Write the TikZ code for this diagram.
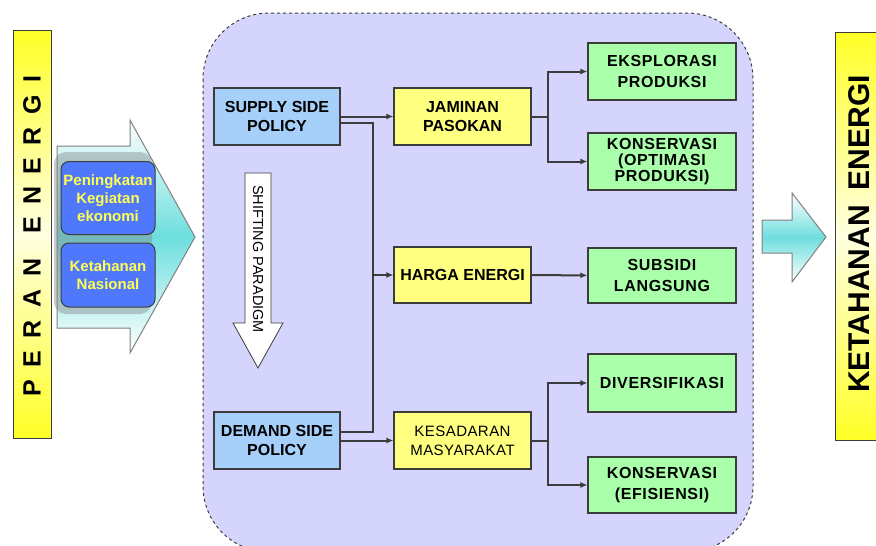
\documentclass[tikz,border=0pt]{standalone}
\usepackage{fontspec}
\setmainfont{Liberation Sans}
\usetikzlibrary{arrows.meta}
\definecolor{lavender}{RGB}{212,212,252}
\definecolor{policyblue}{RGB}{166,208,250}
\definecolor{boxyellow}{RGB}{255,255,128}
\definecolor{boxgreen}{RGB}{170,255,170}
\definecolor{roleblue}{RGB}{80,120,252}
\definecolor{roletext}{RGB}{255,255,80}
\definecolor{flowcyan}{RGB}{110,222,222}
\definecolor{darkline}{RGB}{60,60,60}
\begin{document}
\begin{tikzpicture}[
    x=1pt, y=-1pt,
    every node/.style={align=center, inner sep=1pt, font=\fontsize{16}{19}\selectfont\bfseries},
    policy/.style={draw=darkline, line width=1.2pt, fill=policyblue, minimum width=126pt, minimum height=57pt},
    strategy/.style={draw=darkline, line width=1.2pt, fill=boxyellow, minimum width=137pt, minimum height=57pt},
    program/.style={draw=darkline, line width=1.2pt, fill=boxgreen, minimum width=148pt, minimum height=57pt,
        font=\fontsize{16}{21}\selectfont\bfseries\addfontfeature{LetterSpace=4}},
    role/.style={draw=darkline, line width=1pt, fill=roleblue, rounded corners=8pt, minimum width=94pt,
        text=roletext, font=\fontsize{15}{18}\selectfont\bfseries},
    bar/.style={draw=darkline, line width=1pt, top color=yellow!85, bottom color=yellow!85, middle color=yellow!12},
    bigarrow/.style={draw=gray, line width=1pt, top color=white, bottom color=white, middle color=flowcyan},
    line/.style={draw=darkline, line width=2pt},
    arr/.style={line, -{Latex[length=7pt,width=6pt]}}
]
\useasboundingbox (0,0) rectangle (876,546);
\clip (0,0) rectangle (876,546);

% area kebijakan
\draw[dashed, line width=1pt, darkline, fill=lavender, rounded corners=66pt]
    (203,13) rectangle (753,552);

% peran energi
\draw[bar] (13,30) rectangle (51,438);
\node[rotate=90, font=\fontsize{25}{25}\selectfont\bfseries] (peran) at (32,236)
    {P\,\,\,E\,\,\,R\,\,\,A\,\,\,N\,\,\,\,\,\,E\,\,\,N\,\,\,E\,\,\,R\,\,\,G\,\,\,I};
\draw[bigarrow] (57,146) -- (130,146) -- (130,120) -- (195,237) -- (130,353) -- (130,328) -- (57,328) -- cycle;
\fill[gray, opacity=.4, rounded corners=12pt] (54,152) rectangle (152,314);
\node[role, minimum height=73pt] (ekonomi) at (108,198) {Peningkatan\\Kegiatan\\ekonomi};
\node[role, minimum height=64pt] (nasional) at (108,275) {Ketahanan\\Nasional};

% shifting paradigm
\draw[draw=darkline, fill=white, line width=.8pt]
    (245,173) -- (271,173) -- (271,323) -- (283,323) -- (258,368) -- (233,323) -- (245,323) -- cycle;
\node[rotate=-90, font=\fontsize{14.5}{15}\selectfont] (shift) at (258,259) {SHIFTING PARADIGM};

% kebijakan
\node[policy] (supply) at (277,116.5) {SUPPLY SIDE\\POLICY};
\node[policy] (demand) at (277,440.5) {DEMAND SIDE\\POLICY};
\node[strategy] (jaminan) at (462.5,116.5) {JAMINAN\\PASOKAN};
\node[strategy, minimum height=56pt] (harga) at (462.5,275) {HARGA ENERGI};
\node[strategy, font=\fontsize{15}{19}\selectfont\addfontfeature{LetterSpace=3}] (kesadaran) at (462.5,440.5) {KESADARAN\\MASYARAKAT};
\node[program] (eksplorasi) at (662,71.5) {EKSPLORASI\\PRODUKSI};
\node[program, font=\fontsize{16}{16}\selectfont\bfseries\addfontfeature{LetterSpace=4}] (optimasi) at (662,161.5) {KONSERVASI\\(OPTIMASI\\PRODUKSI)};
\node[program, minimum height=55pt] (subsidi) at (662,275.5) {SUBSIDI\\LANGSUNG};
\node[program, minimum height=58pt] (diversifikasi) at (662,383) {DIVERSIFIKASI};
\node[program, minimum height=56pt] (efisiensi) at (662,485) {KONSERVASI\\(EFISIENSI)};

% hubungan
\coordinate (bus) at (373,0);
\coordinate (split) at (548,0);
\coordinate (s2) at ([yshift=-6pt]supply.east);
\coordinate (d1) at ([yshift=9pt]demand.east);
\draw[arr] (supply) -- (jaminan);
\draw[line] (s2) -| (bus|-d1) -- (d1);
\draw[arr] (bus|-harga) -- (harga);
\draw[arr] (demand) -- (kesadaran);
\draw[line] (jaminan) -- (split|-jaminan);
\draw[arr] (split|-jaminan) |- (eksplorasi);
\draw[arr] (split|-jaminan) |- (optimasi);
\draw[arr] (harga) -- (subsidi);
\draw[line] (kesadaran) -- (split|-kesadaran);
\draw[arr] (split|-kesadaran) |- (diversifikasi);
\draw[arr] (split|-kesadaran) |- (efisiensi);

% ketahanan energi
\draw[bigarrow] (762,220) -- (792,220) -- (792,193) -- (826,237) -- (792,282) -- (792,253) -- (762,253) -- cycle;
\draw[bar] (835,32) rectangle (900,440);
\node[rotate=90, font=\fontsize{30}{30}\selectfont\bfseries] (ketahanan) at (859,234) {KETAHANAN\,\,\,ENERGI};
\end{tikzpicture}
\end{document}
